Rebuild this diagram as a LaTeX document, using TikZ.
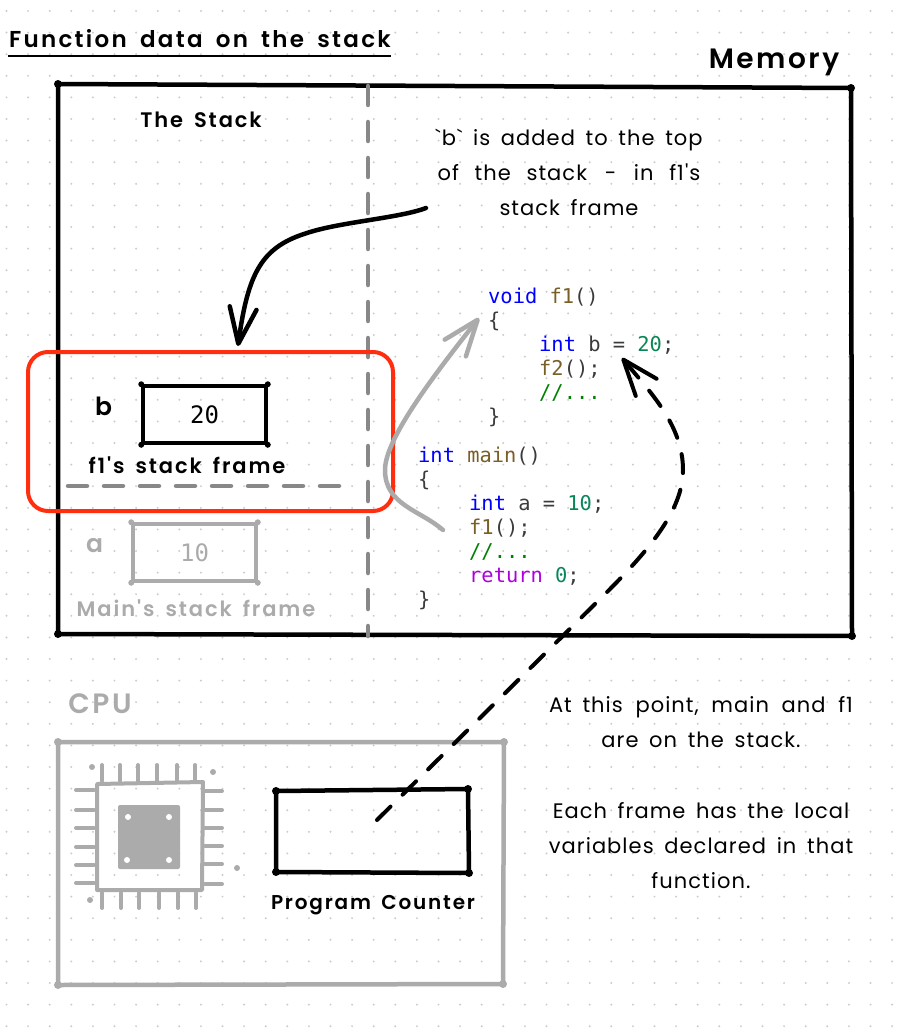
\documentclass[tikz,border=0pt]{standalone}
\usepackage{fontspec}
\usetikzlibrary{arrows.meta,positioning}
\newfontfamily\handfont{Poppins}[LetterSpace=5,WordSpace=1.6]
\newfontfamily\handbold{Poppins SemiBold}[LetterSpace=9,WordSpace=1.6]
\newfontfamily\titlefont{Poppins SemiBold}[LetterSpace=10,WordSpace=1.7]
\newfontfamily\codefont{DejaVu Sans Mono}[WordSpace=1]
\definecolor{faded}{HTML}{ABABAB}
\definecolor{midgray}{HTML}{888888}
\definecolor{gridgray}{HTML}{CCCCCC}
\definecolor{framered}{HTML}{FF2E0F}
\definecolor{kwblue}{HTML}{0000FF}
\definecolor{fnbrown}{HTML}{795E26}
\definecolor{numgreen}{HTML}{098658}
\definecolor{cmtgreen}{HTML}{008000}
\definecolor{retpurple}{HTML}{AF00DB}
\definecolor{codegray}{HTML}{3B3B3B}
\newcommand{\kw}[1]{\textcolor{kwblue}{#1}}
\newcommand{\fn}[1]{\textcolor{fnbrown}{#1}}
\newcommand{\num}[1]{\textcolor{numgreen}{#1}}
\newcommand{\cmt}[1]{\textcolor{cmtgreen}{#1}}
\newcommand{\ind}{\hspace*{51pt}}
\tikzstyle{hand} = [font=\handfont\fontsize{21}{35}\selectfont, align=center, inner sep=0pt]
\tikzstyle{label} = [font=\handbold\fontsize{21}{25}\selectfont, inner sep=0pt]
\tikzstyle{value} = [rectangle, draw, line width=3.5pt, line join=round, minimum width=123pt,
    minimum height=57pt, inner sep=0pt, font=\codefont\fontsize{24}{28}\selectfont]
\tikzstyle{code} = [font=\codefont\fontsize{20.4}{24}\selectfont, text=codegray, align=left,
    inner sep=0pt, anchor=north west]
\tikzstyle{wall} = [line width=4.5pt, line join=round, line cap=round]
\tikzstyle{gap} = [line width=4.5pt, line cap=round, dash pattern=on 19pt off 17pt]
\tikzstyle{bigtip} = [-{Straight Barb[length=36pt,width=27pt,round]}]
\tikzstyle{pin} = [faded, line width=4pt, line cap=round]

\begin{document}
\begin{tikzpicture}[x=1pt,y=-1pt]
  \useasboundingbox (0,0) rectangle (903,1035);

  % dotted paper
  \foreach \i in {0,...,41}
    \foreach \j in {0,...,47}
      \fill[gridgray] (6.5+21.6*\i,11+21.6*\j) circle (1.1pt);

  % title
  \node[label, font=\titlefont\fontsize{23}{28}\selectfont] (title) at (200,39) {Function data on the stack};
  \draw[line width=2.5pt] (8,56) -- (391,56);
  \node[label, font=\handbold\fontsize{28}{34}\selectfont] (memlabel) at (774,62) {Memory};

  % memory
  \draw[wall] (58,84) -- (851,88) -- (852,636) -- (58,634) -- cycle;
  \foreach \x/\y in {58/84,851/88,852/636,58/634}
    \fill (\x,\y) circle (4pt);
  \draw[gap, midgray] (368,86) -- (368,636);
  \node[label] (stacklabel) at (201,120) {The Stack};
  \node[hand] (bnote) at (569,172) {`b` is added to the top\\of \hspace{5pt}the \hspace{5pt}stack \hspace{7pt}-\hspace{7pt} in \hspace{5pt}f1's\\stack frame};

  % f1 frame
  \node[value] (bbox) at (204.5,414.5) {20};
  \foreach \c in {north west,north east,south east,south west}
    \fill (bbox.\c) circle (3pt);
  \node[label, left=29pt of bbox.north west, yshift=-22pt, font=\handbold\fontsize{25}{30}\selectfont] (bname) {b};
  \node[label] (f1label) at (187,465) {f1's stack frame};
  \draw[gap, midgray] (68,486) -- (341,486);
  \node[draw=framered, line width=4pt, rounded corners=20pt, minimum width=365pt,
        minimum height=159pt, inner sep=0pt] (f1frame) at (210.5,431.5) {};

  % main frame
  \node[value, draw=faded, text=faded] (abox) at (194.5,552.5) {10};
  \foreach \c in {north west,north east,south east,south west}
    \fill[faded] (abox.\c) circle (3pt);
  \node[label, text=faded, left=28pt of abox.north west, yshift=-23pt, font=\handbold\fontsize{25}{30}\selectfont] (aname) {a};
  \node[label, text=faded] (mainlabel) at (196,608) {Main's stack frame};

  % code
  \node[code] (f1code) at (488,288) {\kw{void} \fn{f1}()\\
    \{\\
    \ind\kw{int} b = \num{20};\\
    \ind\fn{f2}();\\
    \ind\cmt{//...}\\
    \}};
  \node[code] (maincode) at (418,447) {\kw{int} \fn{main}()\\
    \{\\
    \ind\kw{int} a = \num{10};\\
    \ind\fn{f1}();\\
    \ind\cmt{//...}\\
    \ind\textcolor{retpurple}{return} \num{0};\\
    \}};

  % cpu
  \node[label, text=faded, font=\handbold\fontsize{28}{34}\selectfont] (cpulabel) at (100,704) {CPU};
  \draw[wall, faded] (58,742) -- (504,742) -- (503,984) -- (58,985) -- cycle;
  \foreach \x/\y in {58/742,504/742,503/984,58/985}
    \fill[faded] (\x,\y) circle (4pt);
  \draw[faded, line width=4pt, line join=round] (97,784) -- (203,782) -- (202,890) -- (97,890) -- cycle;
  \node[fill=faded, rounded corners=2pt, minimum width=62pt, minimum height=64pt, inner sep=0pt] (die) at (149,837) {};
  \foreach \x/\y in {128/817,169/817,127/860,169/860}
    \fill[white] (\x,\y) circle (3pt);
  \foreach \x in {102,120,138,157,177,195}
    \draw[pin] (\x,765) -- (\x,781);
  \foreach \x in {102,121,139,159,178,196}
    \draw[pin] (\x,893) -- (\x,908);
  \foreach \y in {790,810,828,847,865,883}
    \draw[pin] (76,\y) -- (94,\y);
  \foreach \y in {791,810,828,846,864,884}
    \draw[pin] (205,\y) -- (222,\y);
  \foreach \x/\y in {92/767,213/772,90/900,237/868}
    \fill[faded] (\x,\y) circle (3pt);

  % program counter
  \draw[wall] (276,791) -- (468,789) -- (469,873) -- (276,872) -- cycle;
  \foreach \x/\y in {276/791,468/789,469/873,276/872}
    \fill (\x,\y) circle (4pt);
  \node[label, font=\handbold\fontsize{20}{25}\selectfont] (pclabel) at (373,905) {Program Counter};
  \node[hand] (note) at (701,793) {At this\hspace{2pt} point,\hspace{2pt} main\hspace{2pt} and\hspace{2pt} f1\\are on the stack.\\[36pt]Each frame has the local\\variables declared in that\\function.};

  % arrows
  \coordinate (noteout) at (426,208);
  \coordinate (frametop) at (238,346);
  \coordinate (callf1) at (443,530);
  \coordinate (f1head) at (479,318);
  \coordinate (pcin) at (377,820);
  \coordinate (lineb) at (622,358);
  \draw[bigtip, wall] (noteout) .. controls (400,218) and (340,222) .. (307,233)
        .. controls (262,247) and (248,272) .. (frametop);
  \draw[bigtip, wall, faded] (callf1) .. controls (420,510) and (385,505) .. (385,470)
        .. controls (385,440) and (430,380) .. (f1head);
  \draw[bigtip, line width=4pt, line cap=round, dash pattern=on 19pt off 17pt] (pcin) -- (597,602)
        .. controls (650,550) and (683,510) .. (683,470)
        .. controls (683,425) and (650,392) .. (lineb);
\end{tikzpicture}
\end{document}
